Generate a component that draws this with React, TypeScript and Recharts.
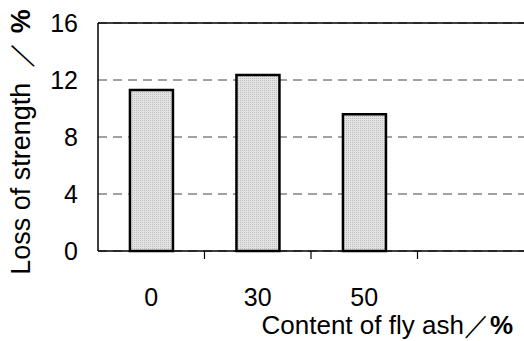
import { BarChart, Bar, XAxis, YAxis, CartesianGrid, ReferenceLine, Label } from "recharts";

const flyAsh = ["0", "30", "50", ""];
const lossOfStrength = [11.3, 12.35, 9.6, null];
const yTicks = [0, 4, 8, 12, 16];

const data = flyAsh.map((c, i) => ({ content: c, loss: lossOfStrength[i] }));

const FONT = "'Liberation Sans', Arial, sans-serif";

function XTick(props: any) {
  const { x, y, payload, index } = props;
  const half = payload?.offset ?? 53;
  return (
    <g>
      <text x={x} y={y + 47} textAnchor="middle" fontSize={25} fontFamily={FONT} fill="#000">
        {payload.value}
      </text>
      {index < flyAsh.length - 1 && (
        <line x1={x + half} x2={x + half} y1={y} y2={y - 8} stroke="#000" strokeWidth={1.2} />
      )}
    </g>
  );
}

function YTick(props: any) {
  const { x, y, payload } = props;
  return (
    <text x={x} y={y + 9} textAnchor="end" fontSize={25} fontFamily={FONT} fill="#000">
      {payload.value}
    </text>
  );
}

export default function App() {
  return (
    <div style={{ position: "absolute", left: 0, top: 0, background: "#fff" }}>
      <BarChart
        width={524}
        height={341}
        data={data}
        margin={{ top: 23, right: 0, bottom: 0, left: 0 }}
        barCategoryGap="30%"
      >
        <defs>
          <pattern id="dots" width="2" height="2" patternUnits="userSpaceOnUse">
            <rect width="2" height="2" fill="#e4e4e4" />
            <rect width="1" height="1" fill="#bcbcbc" />
          </pattern>
        </defs>
        <CartesianGrid vertical={false} stroke="#444" strokeDasharray="9 6" />
        <XAxis
          dataKey="content"
          height={90}
          axisLine={{ stroke: "#000", strokeWidth: 1.5 }}
          tickLine={false}
          tick={<XTick />}
          interval={0}
        >
          <Label
            content={() => (
              <text x={513} y={334} textAnchor="end" fontSize={26} fontFamily={FONT} fill="#000">
                Content of fly ash／<tspan fontWeight="bold">%</tspan>
              </text>
            )}
          />
        </XAxis>
        <YAxis
          width={98}
          domain={[0, 16]}
          ticks={yTicks}
          axisLine={{ stroke: "#000", strokeWidth: 1.5 }}
          tickLine={false}
          tickSize={0}
          tickMargin={20}
          tick={<YTick />}
        >
          <Label
            content={() => (
              <text
                x={0}
                y={0}
                textAnchor="middle"
                transform="translate(30,142) rotate(-90)"
                fontSize={27}
                fontFamily={FONT}
                fill="#000"
              >
                Loss of strength{"\u00a0\u00a0"}／{"\u00a0"}<tspan fontWeight="bold">%</tspan>
              </text>
            )}
          />
        </YAxis>
        <ReferenceLine y={16} stroke="#000" strokeWidth={1.5} />
        <Bar dataKey="loss" fill="url(#dots)" stroke="#000" strokeWidth={2.5} isAnimationActive={false} />
      </BarChart>
    </div>
  );
}
